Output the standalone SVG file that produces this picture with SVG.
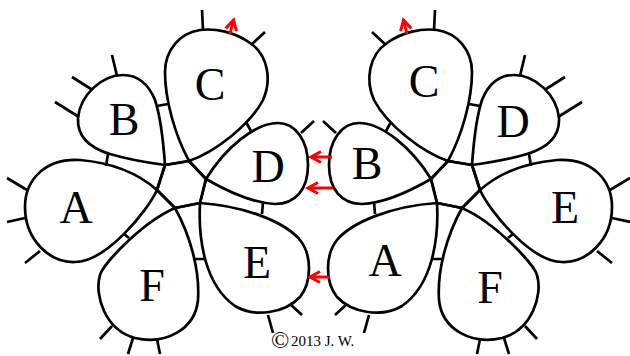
<svg xmlns="http://www.w3.org/2000/svg" width="630" height="356" viewBox="0 0 630 356">
<style>
.ring{fill:none;stroke:#000;stroke-width:2.7;stroke-linejoin:round;stroke-linecap:round}
.picot{fill:none;stroke:#000;stroke-width:2.7;stroke-linecap:butt}
.bar{fill:none;stroke:#000;stroke-width:2.7;stroke-linecap:butt}
.arrow{fill:none;stroke:#f00;stroke-width:3;stroke-linecap:butt}
.lbl{font-family:"Liberation Serif","Times New Roman",serif;font-size:46px;text-anchor:middle;fill:#000}
.copy{font-family:"Liberation Serif","Times New Roman",serif;fill:#000}
</style>
<defs>
<marker id="ah" markerUnits="userSpaceOnUse" markerWidth="16" markerHeight="16" viewBox="-13 -8 16 16" refX="0" refY="0" orient="auto" overflow="visible">
<path d="M-10,-5.5 L0,0 L-10,5.5" fill="none" stroke="#f00" stroke-width="3" stroke-linejoin="miter"/>
</marker>
</defs>
<rect x="0" y="0" width="630" height="356" fill="#fff"/>

<!-- Left flower -->
<g id="left-ring-A">
<path class="ring" d="M175,208 L157,190 C140,175 115,163 80,160 C45,158 25,180 25,207 C25,240 50,263 75,262 C106,262 147.5,211 157,190 L165,165"/>
<path class="picot" d="M7,178 L27,190 M7,222 L25,218 M25,263 L40,251"/>
<text class="lbl" x="76" y="223">A</text>
</g>
<g id="left-ring-B">
<path class="ring" d="M157,190 L165,165 C163,137 160,115 155,100 C148,83 137,75 123,75 C102,75 80,95 78,118 C77,137 90,148 110,154 C130,160 150,163 165,165 L189,161"/>
<path class="picot" d="M112,55 L117,76 M72,77 L91,89 M55,102 L79,117"/>
<text class="lbl" x="124" y="135">B</text>
</g>
<g id="left-ring-C">
<path class="ring" d="M165,165 L189,161 C215,152 250,125 263,100 C272,80 268,55 250,43 C235,32 215,28 200,30 C180,33 165,50 165,72 C165,100 175,135 189,161 L206,179"/>
<path class="picot" d="M202,10 L203,30 M265,32 L251,45"/>
<text class="lbl" x="210" y="100">C</text>
</g>
<g id="left-ring-D">
<path class="ring" d="M189,161 L206,179 C225,190 250,203 275,204 C295,204 308,190 308,165 C308,140 295,123 278,123 C255,123 225,148 206,179 L200,203"/>
<path class="picot" d="M301,133 L314,121"/>
<text class="lbl" x="268" y="182">D</text>
</g>
<g id="left-ring-E">
<path class="ring" d="M206,179 L200,203 C198,240 205,285 235,306 C255,318 285,313 300,297 C312,282 312,255 300,240 C285,222 245,206 200,203 L175,208"/>
<path class="picot" d="M268,315 L273,333 M290,304 L302,315"/>
<text class="lbl" x="257" y="278">E</text>
</g>
<g id="left-ring-F">
<path class="ring" d="M200,203 L175,208 C141,223 103.3,264 100,275 C94,295 105,330 135,338 C165,345 195,330 198,300 C200,270 190,235 175,208 L157,190"/>
<path class="picot" d="M112,326 L100,339 M133,338 L128,354 M157,339 L160,354"/>
<text class="lbl" x="152" y="301">F</text>
</g>

<!-- Right flower (mirror geometry) -->
<g id="right-ring-E">
<g transform="matrix(-1 0 0 1 637 0)">
<path class="ring" d="M175,208 L157,190 C140,175 115,163 80,160 C45,158 25,180 25,207 C25,240 50,263 75,262 C106,262 147.5,211 157,190 L165,165"/>
<path class="picot" d="M7,178 L27,190 M7,222 L25,218 M25,263 L40,251"/>
</g>
<text class="lbl" x="565" y="223">E</text>
</g>
<g id="right-ring-D">
<g transform="matrix(-1 0 0 1 637 0)">
<path class="ring" d="M157,190 L165,165 C163,137 160,115 155,100 C148,83 137,75 123,75 C102,75 80,95 78,118 C77,137 90,148 110,154 C130,160 150,163 165,165 L189,161"/>
<path class="picot" d="M112,55 L117,76 M72,77 L91,89 M55,102 L79,117"/>
</g>
<text class="lbl" x="513" y="137">D</text>
</g>
<g id="right-ring-C">
<g transform="matrix(-1 0 0 1 637 0)">
<path class="ring" d="M165,165 L189,161 C215,152 250,125 263,100 C272,80 268,55 250,43 C235,32 215,28 200,30 C180,33 165,50 165,72 C165,100 175,135 189,161 L206,179"/>
<path class="picot" d="M202,10 L203,30 M265,32 L251,45"/>
</g>
<text class="lbl" x="424" y="97">C</text>
</g>
<g id="right-ring-B">
<g transform="matrix(-1 0 0 1 637 0)">
<path class="ring" d="M189,161 L206,179 C225,190 250,203 275,204 C295,204 308,190 308,165 C308,140 295,123 278,123 C255,123 225,148 206,179 L200,203"/>
<path class="picot" d="M301,133 L314,121"/>
</g>
<text class="lbl" x="367" y="179">B</text>
</g>
<g id="right-ring-A">
<g transform="matrix(-1 0 0 1 637 0)">
<path class="ring" d="M206,179 L200,203 C198,240 205,285 235,306 C255,318 285,313 300,297 C312,282 312,255 300,240 C285,222 245,206 200,203 L175,208"/>
<path class="picot" d="M268,315 L273,333 M290,304 L302,315"/>
</g>
<text class="lbl" x="385" y="276">A</text>
</g>
<g id="right-ring-F">
<g transform="matrix(-1 0 0 1 637 0)">
<path class="ring" d="M200,203 L175,208 C141,223 103.3,264 100,275 C94,295 105,330 135,338 C165,345 195,330 198,300 C200,270 190,235 175,208 L157,190"/>
<path class="picot" d="M112,326 L100,339 M133,338 L128,354 M157,339 L160,354"/>
</g>
<text class="lbl" x="490" y="303">F</text>
</g>

<!-- Connectors: join bars and red arrows -->
<g id="connectors">
<path class="bar" d="M108,154 L106,166 M157,106 L168,104 M246,122 L251,131 M263,202 L262,214 M194,259 L205,259 M124,234 L129,238"/>
<path class="bar" transform="matrix(-1 0 0 1 637 0)" d="M108,154 L106,166 M157,106 L168,104 M246,122 L251,131 M263,202 L262,214 M194,259 L205,259 M124,234 L129,238"/>
<line class="arrow" x1="230" y1="34" x2="233.5" y2="20" marker-end="url(#ah)"/>
<line class="arrow" x1="407" y1="34" x2="403.5" y2="20" marker-end="url(#ah)"/>
<line class="arrow" x1="332" y1="157" x2="311" y2="157" marker-end="url(#ah)"/>
<line class="arrow" x1="333" y1="188" x2="308" y2="188" marker-end="url(#ah)"/>
<line class="arrow" x1="330" y1="277" x2="310" y2="277" marker-end="url(#ah)"/>
</g>

<text class="copy" x="271" y="348" font-size="24">©</text>
<text class="copy" x="291" y="346" font-size="15">2013 J. W.</text>
</svg>
